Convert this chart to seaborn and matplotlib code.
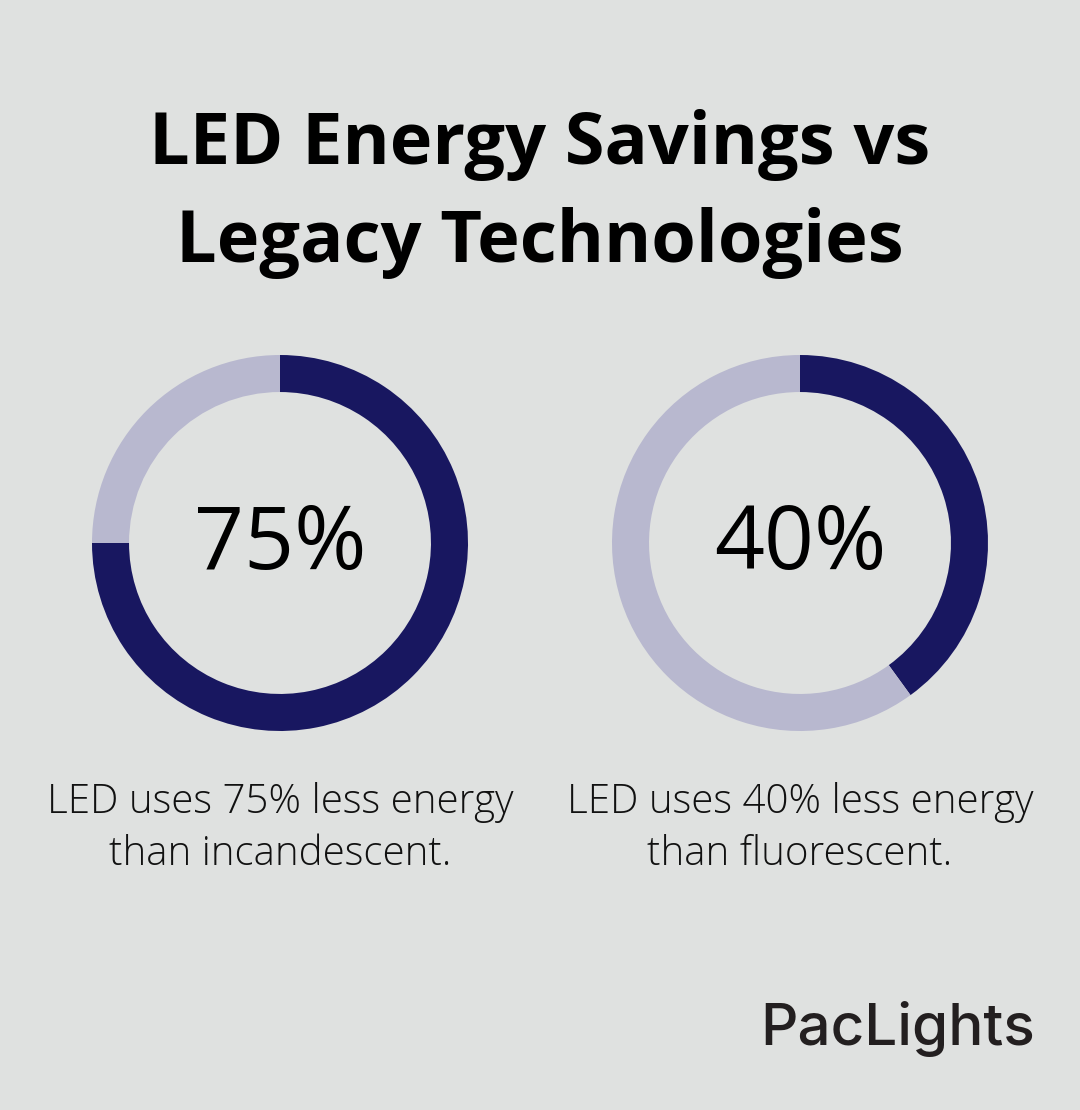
import matplotlib.pyplot as plt
import seaborn as sns

# Data
labels = ['incandescent', 'fluorescent']
savings = [75, 40]
captions = [
    ['LED uses 75% less energy', 'than incandescent.'],
    ['LED uses 40% less energy', 'than fluorescent.'],
]
title_lines = ['LED Energy Savings vs', 'Legacy Technologies']

bg = '#dfe1e0'
dark = '#181760'
light = '#b8b8cf'

sns.set_style('white')
plt.rcParams['font.family'] = ['Open Sans', 'DejaVu Sans']

W, H = 1080, 1110
fig = plt.figure(figsize=(W / 100, H / 100), dpi=100)
fig.patch.set_facecolor(bg)

# Title, one line at a time (baselines in pixels from top)
for line, yb in zip(title_lines, [164, 262]):
    fig.text(540 / W, 1 - yb / H, line, ha='center', va='baseline',
             fontsize=51.8, fontweight='bold', color='black')

# Donuts
centers_x = [280, 800]
cy = 543
r = 188
for cx, val, cap in zip(centers_x, savings, captions):
    ax = fig.add_axes([(cx - r) / W, (H - cy - r) / H, 2 * r / W, 2 * r / H])
    ax.pie([val, 100 - val], colors=[dark, light], startangle=90,
           counterclock=False, radius=1,
           wedgeprops=dict(width=0.197, linewidth=0))
    ax.set_xlim(-1, 1)
    ax.set_ylim(-1, 1)
    ax.axis('off')
    fig.text(cx / W, 1 - 569 / H, f'{val}%', ha='center', va='baseline',
             fontsize=63, color='black')
    for line, yb in zip(cap, [813, 865]):
        fig.text(cx / W, 1 - yb / H, line, ha='center', va='baseline',
                 fontsize=29, fontweight='light', color='#111111')

# Brand mark
fig.text(1035 / W, 1 - 1045 / H, 'PacLights', ha='right', va='baseline',
         fontsize=42, fontweight='medium', family=['Inter', 'DejaVu Sans'],
         color='#231f20')

fig.savefig('out.png', dpi=100, facecolor=bg)
